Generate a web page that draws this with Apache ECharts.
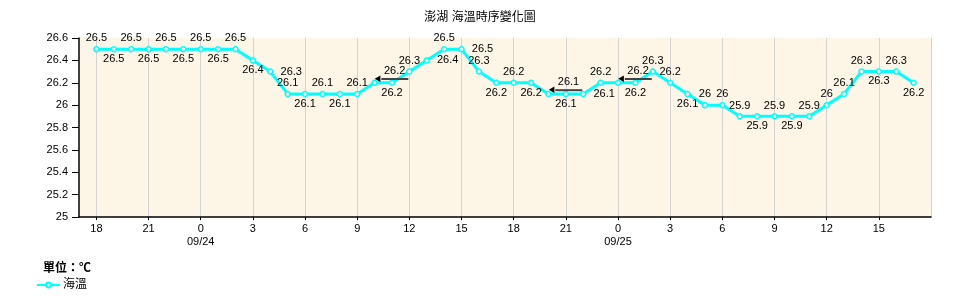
<!DOCTYPE html>
<html>
<head>
<meta charset="utf-8">
<script src="https://cdn.jsdelivr.net/npm/echarts@6/dist/echarts.min.js"></script>
<style>
html,body{margin:0;padding:0;background:#fff;}
#chart{width:960px;height:307px;}
</style>
</head>
<body>
<div id="chart"></div>
<script>
// ---- data ----
const chartTitle = '澎湖 海溫時序變化圖';
const unitText = '單位：℃';
const seriesName = '海溫';
// hour categories: one padding hour before the first reading and one after the last
const hourLabels = ['17','18','19','20','21','22','23','0','1','2','3','4','5','6','7','8','9','10','11','12','13','14','15','16','17','18','19','20','21','22','23','0','1','2','3','4','5','6','7','8','9','10','11','12','13','14','15','16','17','18'];
const dateLabels = ['09/24','09/25'];
// sea temperature, hourly from 18h (09/23) to 17h (09/25)
const seaTemp = [26.5,26.5,26.5,26.5,26.5,26.5,26.5,26.5,26.5,26.4,26.3,26.1,26.1,26.1,26.1,26.1,26.2,26.2,26.3,26.4,26.5,26.5,26.3,26.2,26.2,26.2,26.1,26.1,26.1,26.2,26.2,26.2,26.3,26.2,26.1,26.0,26.0,25.9,25.9,25.9,25.9,25.9,26.0,26.1,26.3,26.3,26.3,26.2];
const yTicks = {min:25, max:26.6, step:0.2};

// label placement (style): T top, B bottom, R right, C callout
const labelPlace = ['T','B','T','B','T','B','T','B','T','B','R','T','B','T','B','T','C','B','T','R','T','R','T','B','T','B','C','B','R','T','C','B','T','T','B','T','T','T','B','T','B','T','T','T','T','B','T','B'];

const FONT = '"Liberation Sans", "Noto Sans CJK TC", sans-serif';

function labelFor(code){
  if(code==='T') return {position:'top', distance:2};
  if(code==='B') return {position:'bottom', distance:1};
  if(code==='R') return {position:'right', distance:7};
  return {
    position:[3,1], align:'left', verticalAlign:'bottom',
    formatter: p => '{v|' + p.value + '}\n{a|◀}{u|}',
    rich:{
      v:{fontSize:11, fontFamily:FONT, color:'#000', align:'right', padding:[0,3,0,0], lineHeight:13},
      a:{fontSize:7, color:'#000', lineHeight:3, height:3, padding:[0,0,0,0]},
      u:{width:27, height:2, backgroundColor:'#444'}
    }
  };
}

const seriesData = ['-'].concat(seaTemp.map((v,i)=>({value:v, label:labelFor(labelPlace[i])})));

function isTick(idx){ return (idx-1)%3===0; }

const chart = echarts.init(document.getElementById('chart'), null, {renderer:'canvas'});
chart.setOption({
  animation:false,
  backgroundColor:'#ffffff',
  title:[
    {text:chartTitle, left:'center', top:7, textStyle:{fontSize:12, fontWeight:'normal', color:'#000', fontFamily:FONT}},
    {text:unitText, left:38, top:258, textStyle:{fontSize:12, fontWeight:'bold', color:'#000', fontFamily:FONT}}
  ],
  legend:{
    left:36, top:279, padding:0, itemWidth:23, itemHeight:6, itemGap:4,
    textStyle:{fontSize:12, color:'#000', fontFamily:FONT, padding:[0,0,0,-2]},
    data:[seriesName]
  },
  grid:{left:79, right:29, top:38, bottom:90, show:true, backgroundColor:'#FDF5E6', borderWidth:0},
  xAxis:{
    type:'category', data:hourLabels, boundaryGap:false,
    axisLine:{lineStyle:{color:'#000', width:1.5}},
    axisTick:{show:true, length:3, interval:(i)=>isTick(i) && i<hourLabels.length-1, lineStyle:{color:'#000'}},
    axisLabel:{
      interval:(i)=>isTick(i) && i<hourLabels.length-1,
      margin:5, fontSize:11, color:'#000', fontFamily:FONT, lineHeight:13,
      formatter:(val, idx)=>{
        if(val==='0'){
          let n=0; for(let k=0;k<idx;k++){ if(hourLabels[k]==='0') n++; }
          return '0\n' + dateLabels[n];
        }
        return val;
      }
    },
    splitLine:{show:true, interval:(i)=>isTick(i), lineStyle:{color:'#D3D3D3', width:1}}
  },
  yAxis:{
    type:'value', min:yTicks.min, max:yTicks.max, interval:yTicks.step,
    axisLine:{show:true, lineStyle:{color:'#000', width:1.5}},
    axisTick:{show:true, length:7, lineStyle:{color:'#000'}},
    axisLabel:{margin:11, fontSize:11, color:'#000', fontFamily:FONT,
      formatter:(v)=>String(Math.round(v*10)/10)},
    splitLine:{show:false}
  },
  series:[{
    name:seriesName, type:'line', data:seriesData,
    symbol:'circle', symbolSize:5, showAllSymbol:true,
    lineStyle:{color:'#00FFFF', width:3},
    itemStyle:{color:'#ffffff', borderColor:'#00FFFF', borderWidth:1.5},
    label:{show:true, fontSize:11, color:'#000', fontFamily:FONT},
    emphasis:{disabled:true}
  }]
});
</script>
</body>
</html>
